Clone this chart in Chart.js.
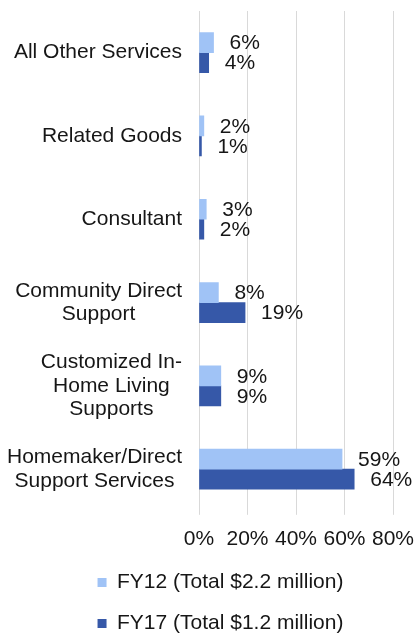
<!DOCTYPE html>
<html>
<head>
<meta charset="utf-8">
<script src="https://cdn.jsdelivr.net/npm/chart.js@4/dist/chart.umd.min.js"></script>
<style>
  html, body { margin:0; padding:0; background:#fff; overflow:hidden; }
  #wrap { width:419px; height:642px; position:relative; }
</style>
</head>
<body>
<div id="wrap"><canvas id="spendChart"></canvas></div>
<script>
// Service categories, top to bottom (multi-line labels as arrays)
const categories = [
    ["All Other Services"],
    ["Related Goods"],
    ["Consultant"],
    ["Community Direct", "Support"],
    ["Customized In-", "Home Living", "Supports"],
    ["Homemaker/Direct", "Support Services"],
];
// Share of spending (%)
const fy12Share = [6, 2, 3, 8, 9, 59];
const fy17Share = [4, 1, 2, 19, 9, 64];
const seriesNames = ["FY12 (Total $2.2 million)", "FY17 (Total $1.2 million)"];
const xTicks = [0, 20, 40, 60, 80];

const FONT = '"Liberation Sans", Arial, sans-serif';
const FSIZE = 21;
const TEXT = "#161616";
Chart.defaults.font.family = FONT;
Chart.defaults.font.size   = FSIZE;
Chart.defaults.color       = TEXT;

// ── Category labels: each block right-aligned, lines centred inside it ──
const catLabelPlugin = {
    id: "catLabels",
    afterDraw(chart) {
        const { ctx, chartArea } = chart;
        const yScale = chart.scales.y;
        const right  = chartArea.left - 17;
        const lineH  = 23.5;
        ctx.save();
        ctx.font = `${FSIZE}px ${FONT}`;
        ctx.fillStyle = TEXT;
        ctx.textAlign = "center";
        ctx.textBaseline = "middle";
        categories.forEach((lines, i) => {
            const w  = Math.max(...lines.map(l => ctx.measureText(l).width));
            const cx = right - w / 2;
            const cy = yScale.getPixelForTick(i);
            lines.forEach((l, j) => {
                ctx.fillText(l, cx, cy + (j - (lines.length - 1) / 2) * lineH);
            });
        });
        ctx.restore();
    }
};

// ── Value labels to the right of each bar ──
const valueLabelPlugin = {
    id: "valueLabels",
    afterDatasetsDraw(chart) {
        const { ctx } = chart;
        ctx.save();
        ctx.font = `${FSIZE}px ${FONT}`;
        ctx.fillStyle = TEXT;
        ctx.textAlign = "left";
        ctx.textBaseline = "middle";
        chart.data.datasets.forEach((ds, di) => {
            chart.getDatasetMeta(di).data.forEach((bar, i) => {
                ctx.fillText(`${ds.data[i]}%`, bar.x + 16, bar.y + 1);
            });
        });
        ctx.restore();
    }
};

// nudge the stacked legend rows a little right of centre and down
const legendShift = {
    id: "legendShift",
    afterLayout(chart) {
        const lg = chart.legend;
        lg.left += 24;  lg.right  += 24;
        lg.top  += 2;   lg.bottom += 2;
    }
};

new Chart(document.getElementById("spendChart").getContext("2d"), {
    type: "bar",
    data: {
        labels: categories,
        datasets: [
            { label: seriesNames[0], data: fy12Share,
              backgroundColor: "#a0c3f6", barThickness: 20 },
            { label: seriesNames[1], data: fy17Share,
              backgroundColor: "#3658a8", barThickness: 20 },
        ],
    },
    options: {
        indexAxis: "y",
        responsive: true, maintainAspectRatio: false,
        animation: false,
        layout: { padding: { top: 11, right: 26, left: 0, bottom: 0 } },
        plugins: {
            legend: {
                position: "bottom",
                labels: { boxWidth: 9, boxHeight: 9, padding: 20,
                          font: { size: FSIZE }, color: TEXT },
            },
            tooltip: { enabled: false },
        },
        scales: {
            x: {
                min: 0, max: 80,
                afterBuildTicks: s => { s.ticks = xTicks.map(v => ({ value: v })); },
                afterFit: s => { s.height -= 14; s.paddingRight = 0; },
                ticks: { padding: 12, callback: v => `${v}%`, color: TEXT },
                grid: { color: "#d9d9d9", lineWidth: 1, tickLength: 4 },
                border: { display: false },
            },
            y: {
                ticks: { display: false },
                grid: { display: false },
                border: { display: false },
                afterFit: s => { s.width = 199; },
            },
        },
    },
    plugins: [catLabelPlugin, valueLabelPlugin, legendShift],
});
</script>
</body>
</html>
